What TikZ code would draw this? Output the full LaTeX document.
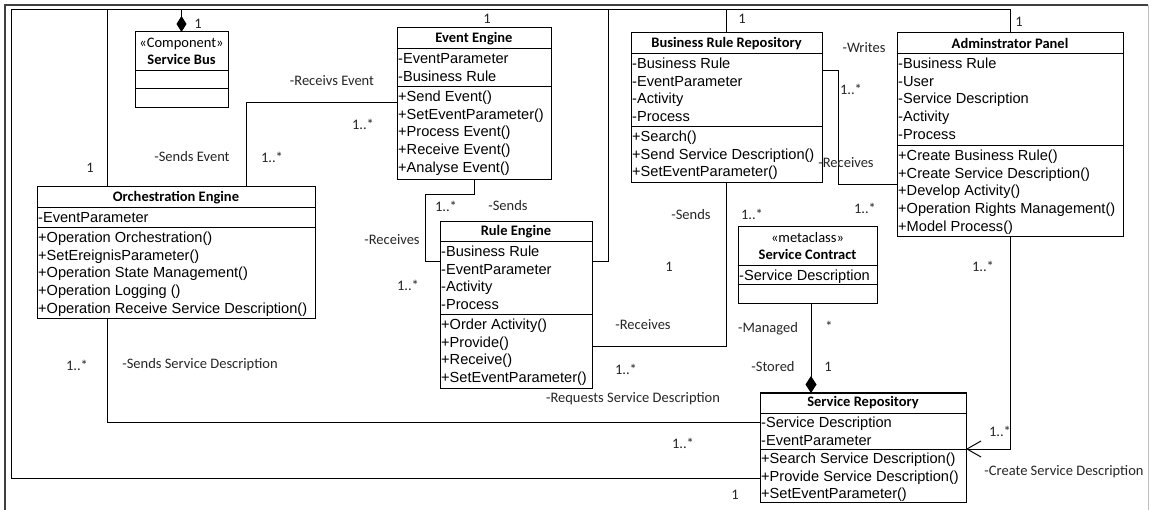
\documentclass[tikz,border=0pt]{standalone}
\usepackage{fontspec}
\setmainfont{Liberation Sans}
\newfontfamily\lblfont{Carlito}
\usetikzlibrary{arrows.meta}

\newcommand\memberfont{\fontsize{14.6}{17.6}\selectfont}
\newcommand\headfont{\lblfont\bfseries\fontsize{14.5}{17.5}\selectfont}

\tikzset{
  classbox/.style={draw, line width=1pt, inner sep=0pt, outer sep=0pt},
  sep/.style={line width=1pt},
  head/.style={font=\headfont, inner sep=0pt, align=center},
  members/.style={font=\memberfont, inner sep=0pt, anchor=north west, align=left},
  link/.style={line width=1pt},
  lbl/.style={font=\lblfont\fontsize{14.5}{17}\selectfont, inner sep=0pt, text=black!85},
  frame/.style={line width=1.2pt, black!75},
}

\begin{document}
\begin{tikzpicture}[x=1pt, y=-1pt]
\useasboundingbox[fill=white] (0,0) rectangle (1151,510);

% outer frame
\draw[frame] (5,510) -- (5,5) -- (1148,5);
\draw[line width=1pt, black!25] (1148,5) -- (1148,510);

% ---------- Service Bus ----------
\node[classbox, minimum width=93pt, minimum height=76pt] (sb) at (181.5,70) {};
\draw[sep] (sb.west |- 0,71) -- (sb.east |- 0,71);
\draw[sep] (sb.west |- 0,89) -- (sb.east |- 0,89);
\node[head] (sb-h) at (181.5,51.5) {\mdseries«Component»\\Service Bus};

% ---------- Event Engine ----------
\node[classbox, minimum width=154pt, minimum height=152pt] (ee) at (474,104) {};
\draw[sep] (ee.west |- 0,49) -- (ee.east |- 0,49);
\draw[sep] (ee.west |- 0,87) -- (ee.east |- 0,87);
\node[head] (ee-h) at (474,38.5) {Event Engine};
\node[members] (ee-a) at (398,51.2) {\strut-EventParameter\\-Business Rule};
\node[members] (ee-m) at (398,89.2) {\strut+Send Event()\\+SetEventParameter()\\+Process Event()\\+Receive Event()\\+Analyse Event()};

% ---------- Business Rule Repository ----------
\node[classbox, minimum width=191pt, minimum height=150pt] (brr) at (726.5,108) {};
\draw[sep] (brr.west |- 0,54) -- (brr.east |- 0,54);
\draw[sep] (brr.west |- 0,127) -- (brr.east |- 0,127);
\node[head] (brr-h) at (726.5,43.5) {Business Rule Repository};
\node[members] (brr-a) at (632,56.2) {\strut-Business Rule\\-EventParameter\\-Activity\\-Process};
\node[members] (brr-m) at (632,129.2) {\strut+Search()\\+Send Service Description()\\+SetEventParameter()};

% ---------- Adminstrator Panel ----------
\node[classbox, minimum width=226pt, minimum height=204pt] (ap) at (1010,135) {};
\draw[sep] (ap.west |- 0,54) -- (ap.east |- 0,54);
\draw[sep] (ap.west |- 0,146) -- (ap.east |- 0,146);
\node[head] (ap-h) at (1010,43.5) {Adminstrator Panel};
\node[members] (ap-a) at (898,56.2) {\strut-Business Rule\\-User\\-Service Description\\-Activity\\-Process};
\node[members] (ap-m) at (898,148.2) {\strut+Create Business Rule()\\+Create Service Description()\\+Develop Activity()\\+Operation Rights Management()\\+Model Process()};

% ---------- Orchestration Engine ----------
\node[classbox, minimum width=278pt, minimum height=132pt] (oe) at (176,253) {};
\draw[sep] (oe.west |- 0,208) -- (oe.east |- 0,208);
\draw[sep] (oe.west |- 0,228) -- (oe.east |- 0,228);
\node[head] (oe-h) at (176,197.5) {Orchestration Engine};
\node[members] (oe-a) at (38,210.2) {\strut-EventParameter};
\node[members] (oe-m) at (38,230.2) {\strut+Operation Orchestration()\\+SetEreignisParameter()\\+Operation State Management()\\+Operation Logging ()\\+Operation Receive Service Description()};

% ---------- Rule Engine ----------
\node[classbox, minimum width=152pt, minimum height=167pt] (re) at (516,305.5) {};
\draw[sep] (re.west |- 0,242) -- (re.east |- 0,242);
\draw[sep] (re.west |- 0,315) -- (re.east |- 0,315);
\node[head] (re-h) at (516,232) {Rule Engine};
\node[members] (re-a) at (441,244.2) {\strut-Business Rule\\-EventParameter\\-Activity\\-Process};
\node[members] (re-m) at (441,317.2) {\strut+Order Activity()\\+Provide()\\+Receive()\\+SetEventParameter()};

% ---------- Service Contract ----------
\node[classbox, minimum width=139pt, minimum height=77pt] (sc) at (807.5,265.5) {};
\draw[sep] (sc.west |- 0,266) -- (sc.east |- 0,266);
\draw[sep] (sc.west |- 0,285) -- (sc.east |- 0,285);
\node[head] (sc-h) at (807.5,246) {\mdseries«metaclass»\\Service Contract};
\node[members] (sc-a) at (739,268.2) {\strut-Service Description};

% ---------- Service Repository ----------
\node[classbox, minimum width=206pt, minimum height=109pt] (sr) at (863,447.5) {};
\draw[sep] (sr.west |- 0,413) -- (sr.east |- 0,413);
\draw[sep] (sr.west |- 0,449) -- (sr.east |- 0,449);
\node[head] (sr-h) at (863,403) {Service Repository};
\node[members] (sr-a) at (761,415.2) {\strut-Service Description\\-EventParameter};
\node[members] (sr-m) at (761,451.2) {\strut+Search Service Description()\\+Provide Service Description()\\+SetEventParameter()};

% ---------- connectors ----------
% shared line from the Service Repository round the top
\coordinate (busL) at (11,10);
\draw[link] (sr.west |- 0,478) -| (busL) -| (ap.north);
\draw[link] (oe.north -| 107,0) -- (107,10);
\draw[link, {Diamond[length=16pt,width=10pt]}-] (sb.north) -- (sb.north |- 0,10);
\draw[link] (608,10) |- (re.east |- 0,262);
\draw[link] (brr.north) -- (brr.north |- 0,10);

% Orchestration Engine -- Event Engine
\draw[link] (oe.north -| 246,0) |- (ee.west |- 0,103);
% Event Engine -- Rule Engine
\draw[link] (ee.south) |- (425,195) |- (re.west |- 0,262);
% Rule Engine -- Business Rule Repository
\draw[link] (re.east |- 0,347) -| (brr.south);
% Business Rule Repository -- Adminstrator Panel
\draw[link] (brr.east |- 0,71) -| (838,185) -- (ap.west |- 0,185);
% Orchestration Engine -- Service Repository
\draw[link] (oe.south -| 107,0) |- (sr.west |- 0,422);
% Service Contract -- Service Repository
\draw[link, {Diamond[length=17pt,width=11pt]}-] (sr.north -| 811,0) -- (sc.south -| 811,0);
% Adminstrator Panel -- Service Repository
\draw[link, -{Straight Barb[length=14pt,width=16pt]}] (ap.south) |- (sr.east |- 0,449);

% ---------- labels ----------
\node[lbl] (l1) at (332,81) {-Receivs Event};
\node[lbl] (l2) at (363,124) {1..*};
\node[lbl] (l3) at (192,157) {-Sends Event};
\node[lbl] (l4) at (272,157) {1..*};
\node[lbl] (l5) at (90,168) {1};
\node[lbl] (l6) at (198,24) {1};
\node[lbl] (l7) at (487,19) {1};
\node[lbl] (l8) at (742,19) {1};
\node[lbl] (l9) at (1019,22) {1};
\node[lbl] (l10) at (864,48) {-Writes};
\node[lbl] (l11) at (851,89) {1..*};
\node[lbl] (l12) at (846,163) {-Receives};
\node[lbl] (l13) at (865,208) {1..*};
\node[lbl] (l14) at (508,206) {-Sends};
\node[lbl] (l15) at (446,206) {1..*};
\node[lbl] (l16) at (392,240) {-Receives};
\node[lbl] (l17) at (408,285) {1..*};
\node[lbl] (l18) at (691,215) {-Sends};
\node[lbl] (l19) at (752,214) {1..*};
\node[lbl] (l20) at (669,267) {1};
\node[lbl] (l21) at (643,325) {-Receives};
\node[lbl] (l22) at (626,369) {1..*};
\node[lbl] (l23) at (768,329) {-Managed};
\node[lbl] (l24) at (829,326) {*};
\node[lbl] (l25) at (773,367) {-Stored};
\node[lbl] (l26) at (828,367) {1};
\node[lbl] (l27) at (983,266) {1..*};
\node[lbl] (l28) at (77,365) {1..*};
\node[lbl] (l29) at (200,365) {-Sends Service Description};
\node[lbl] (l30) at (633,399) {-Requests Service Description};
\node[lbl] (l31) at (683,443) {1..*};
\node[lbl] (l32) at (735,495) {1};
\node[lbl] (l33) at (1000,431) {1..*};
\node[lbl] (l34) at (1064,472) {-Create Service Description};
\end{tikzpicture}
\end{document}
